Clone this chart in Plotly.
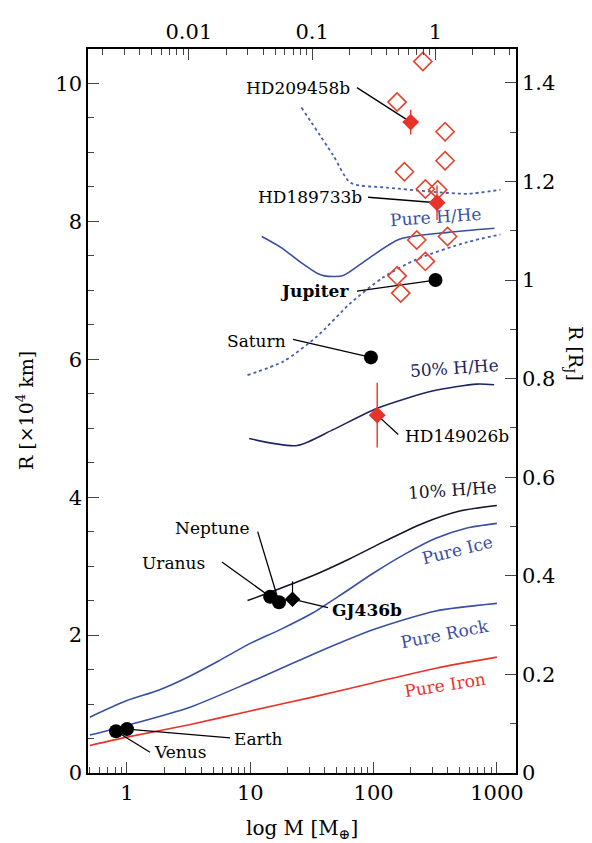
import numpy as np
import plotly.graph_objects as go

RJ = 7.1492  # Jupiter radius in 10^4 km
MJ = 317.8   # Jupiter mass in Earth masses

# ---- model curves (M in Earth masses, R in 10^4 km) ----
iron_m = [0.5, 1, 3.2, 10, 32, 100, 320, 1000]
iron_r = [0.40, 0.52, 0.70, 0.90, 1.10, 1.31, 1.52, 1.68]
rock_m = [0.5, 1, 3.2, 10, 32, 100, 320, 1000]
rock_r = [0.55, 0.69, 0.95, 1.32, 1.72, 2.08, 2.35, 2.46]
ice_m = [0.5, 1, 1.8, 3.2, 5.6, 10, 18, 32, 56, 100, 178, 316, 562, 1000]
ice_r = [0.81, 1.05, 1.20, 1.40, 1.63, 1.88, 2.09, 2.32, 2.60, 2.90, 3.17, 3.40, 3.55, 3.62]
hhe10_m = [9.5, 16, 32, 63, 126, 250, 500, 1000]
hhe10_r = [2.50, 2.65, 2.86, 3.10, 3.37, 3.62, 3.80, 3.88]
hhe50_m = [9.8, 24, 47, 107, 300, 690, 950]
hhe50_r = [4.85, 4.75, 4.98, 5.29, 5.54, 5.64, 5.63]
hhe_m = [12.4, 17.8, 25, 35.5, 40, 56, 89, 162, 400, 955]
hhe_r = [7.78, 7.62, 7.42, 7.24, 7.21, 7.21, 7.45, 7.74, 7.84, 7.90]
dot_hi_m = [26, 47, 65, 129, 302, 575, 1070]
dot_hi_r = [9.65, 8.96, 8.56, 8.49, 8.43, 8.40, 8.46]
dot_lo_m = [9.5, 18.6, 34.7, 64.6, 120, 224, 575, 1070]
dot_lo_r = [5.77, 5.97, 6.33, 6.81, 7.19, 7.45, 7.70, 7.81]

# ---- open diamonds (other transiting planets) ----
open_m = [251, 155, 380, 380, 178, 263, 331, 224, 398, 263, 155, 166]
open_r = [10.32, 9.73, 9.30, 8.88, 8.72, 8.47, 8.46, 7.73, 7.78, 7.42, 7.21, 6.96]

# ---- solar-system planets ----
sol_names = ["Venus", "Earth", "Uranus", "Neptune", "Saturn", "Jupiter"]
sol_m = [0.815, 1.0, 14.5, 17.1, 95.16, 317.8]
sol_r = [0.605, 0.637, 2.556, 2.476, 6.027, 7.149]

# ---- highlighted exoplanets ----
exo_names = ["HD209458b", "HD189733b", "HD149026b"]
exo_m = [200, 327, 107]
exo_r = [9.44, 8.27, 5.19]
exo_err = [0.18, 0.25, 0.47]
gj_m = [22]
gj_r = [2.52]
gj_err_up = [0.26]
gj_err_dn = [0.10]

# label anchor positions (log10 M, R, alignment, leader end log10 M, leader end R)
labels = {
    "Venus":     (0.205, 0.30, "left", 0.187, 0.30),
    "Earth":     (0.855, 0.50, "left", 0.835, 0.51),
    "Uranus":    (0.650, 3.04, "right", 0.77, 3.06),
    "Neptune":   (1.010, 3.55, "right", 1.06, 3.50),
    "Saturn":    (1.306, 6.27, "right", 1.346, 6.29),
    "Jupiter":   (1.817, 6.99, "right", 1.865, 6.99),
    "HD209458b": (1.825, 9.94, "right", 1.865, 9.94),
    "HD189733b": (1.920, 8.35, "right", 1.955, 8.35),
    "HD149026b": (2.240, 4.89, "left", 2.20, 4.91),
    "GJ436b":    (1.646, 2.37, "left", 1.63, 2.40),
}

FONT = "DejaVu Serif"
BLUE = "#3a4ea3"
NAVY = "#1d2463"
RED = "#e8332a"

fig = go.Figure()

def curve(m, r, color, dash="solid", width=1.6):
    fig.add_trace(go.Scatter(x=m, y=r, mode="lines", line=dict(color=color, width=width, dash=dash,
                             shape="spline", smoothing=0.7), showlegend=False, hoverinfo="skip"))

curve(iron_m, iron_r, RED)
curve(rock_m, rock_r, BLUE)
curve(ice_m, ice_r, BLUE)
curve(hhe10_m, hhe10_r, "#14142a")
curve(hhe50_m, hhe50_r, NAVY)
curve(hhe_m, hhe_r, BLUE)
curve(dot_hi_m, dot_hi_r, "#4a5db0", dash="dot", width=1.8)
curve(dot_lo_m, dot_lo_r, "#4a5db0", dash="dot", width=1.8)

# leader lines
pos = {n: (m, r) for n, m, r in zip(sol_names, sol_m, sol_r)}
pos.update({n: (m, r) for n, m, r in zip(exo_names, exo_m, exo_r)})
pos["GJ436b"] = (gj_m[0], gj_r[0])
for name, (lx, ly, al, ex, ey) in labels.items():
    pm, pr = pos[name]
    fig.add_trace(go.Scatter(x=[10 ** ex, pm], y=[ey, pr], mode="lines",
                             line=dict(color="black", width=1.3), showlegend=False, hoverinfo="skip"))

# open diamonds
fig.add_trace(go.Scatter(x=open_m, y=open_r, mode="markers",
                         marker=dict(symbol="diamond-open", size=14, color="#e2452f", line=dict(width=1.6)),
                         showlegend=False, hoverinfo="skip"))

# solar system planets
fig.add_trace(go.Scatter(x=sol_m, y=sol_r, mode="markers",
                         marker=dict(symbol="circle", size=14, color="black"),
                         showlegend=False, hoverinfo="skip"))

# exoplanets with error bars
fig.add_trace(go.Scatter(x=exo_m, y=exo_r, mode="markers",
                         marker=dict(symbol="diamond", size=13, color=RED),
                         error_y=dict(type="data", array=exo_err, color=RED, thickness=1.4, width=0),
                         showlegend=False, hoverinfo="skip"))
fig.add_trace(go.Scatter(x=gj_m, y=gj_r, mode="markers",
                         marker=dict(symbol="diamond", size=12, color="black"),
                         error_y=dict(type="data", symmetric=False, array=gj_err_up, arrayminus=gj_err_dn,
                                      color="black", thickness=1.2, width=0),
                         showlegend=False, hoverinfo="skip"))

# dummy trace for secondary axes
fig.add_trace(go.Scatter(x=[1], y=[0.5], xaxis="x2", yaxis="y2", mode="markers",
                         marker=dict(opacity=0), showlegend=False, hoverinfo="skip"))

ann = []
for name, (lx, ly, al, ex, ey) in labels.items():
    bold = name in ("Jupiter", "GJ436b")
    ann.append(dict(x=lx, y=ly, xref="x", yref="y", text=f"<b>{name}</b>" if bold else name,
                    showarrow=False, xanchor=al, yanchor="middle",
                    font=dict(family=FONT, size=17, color="black")))

curve_labels = [
    ("Pure H/He", 2.50, 8.06, BLUE, -4),
    ("50% H/He", 2.66, 5.87, NAVY, -4),
    ("10% H/He", 2.64, 4.11, "#14142a", -4),
    ("Pure Ice", 2.68, 3.24, BLUE, -14),
    ("Pure Rock", 2.58, 2.01, BLUE, -11),
    ("Pure Iron", 2.58, 1.27, RED, -9),
]
for t, lx, ly, c, ang in curve_labels:
    ann.append(dict(x=lx, y=ly, xref="x", yref="y", text=t, showarrow=False, textangle=ang,
                    font=dict(family=FONT, size=17, color=c)))

# axis titles
ann.append(dict(x=0.5, y=-0.078, xref="paper", yref="paper", text="log M [M<sub>⊕</sub>]",
                showarrow=False, xanchor="center", yanchor="middle",
                font=dict(family=FONT, size=20, color="black")))
ann.append(dict(x=-0.147, y=0.5, xref="paper", yref="paper", text="R [×10<sup>4</sup> km]",
                showarrow=False, textangle=-90, xanchor="center", yanchor="middle",
                font=dict(family=FONT, size=19, color="black")))
ann.append(dict(x=1.138, y=0.58, xref="paper", yref="paper", text="R [R<sub>J</sub>]",
                showarrow=False, textangle=90, xanchor="center", yanchor="middle",
                font=dict(family=FONT, size=19, color="black")))

def log_minor(lo, hi):
    out = []
    for d in range(lo, hi):
        for k in range(2, 10):
            out.append(k * 10.0 ** d)
    return out

xr = [-0.316, 3.155]
tickfont = dict(family=FONT, size=21, color="black")
fig.update_layout(
    width=584, height=835, margin=dict(l=80, r=76, t=35, b=70),
    plot_bgcolor="white", paper_bgcolor="white", annotations=ann,
    xaxis=dict(type="log", range=xr, showgrid=False, zeroline=False, showline=True, linecolor="black",
               linewidth=1.5, ticks="inside", ticklen=11, tickwidth=1.2, tickvals=[1, 10, 100, 1000],
               ticktext=["1", "10", "100", "1000"], tickfont=tickfont,
               minor=dict(tickvals=log_minor(-1, 4), ticks="inside", ticklen=6, tickwidth=1.1)),
    xaxis2=dict(type="log", range=[xr[0] - np.log10(MJ), xr[1] - np.log10(MJ)], overlaying="x",
                side="top", anchor="y2", showgrid=False, zeroline=False, showline=True, linecolor="black",
                linewidth=1.5, ticks="inside", ticklen=11, tickwidth=1.2, tickvals=[0.01, 0.1, 1],
                ticktext=["0.01", "0.1", "1"], tickfont=tickfont,
                minor=dict(tickvals=log_minor(-3, 1), ticks="inside", ticklen=6, tickwidth=1.1)),
    yaxis=dict(range=[0, 10.5], showgrid=False, zeroline=False, showline=True, linecolor="black",
               linewidth=1.5, ticks="inside", ticklen=11, tickwidth=1.2, tickvals=[0, 2, 4, 6, 8, 10],
               tickfont=tickfont, minor=dict(dtick=0.5, ticks="inside", ticklen=6, tickwidth=1.1)),
    yaxis2=dict(range=[0, 10.5 / RJ], overlaying="y", side="right", anchor="x2", showgrid=False,
                zeroline=False, showline=True, linecolor="black", linewidth=1.5, ticks="inside",
                ticklen=11, tickwidth=1.2, tickvals=[0, 0.2, 0.4, 0.6, 0.8, 1.0, 1.2, 1.4],
                ticktext=["0", "0.2", "0.4", "0.6", "0.8", "1", "1.2", "1.4"], tickfont=tickfont,
                minor=dict(dtick=0.1, ticks="inside", ticklen=6, tickwidth=1.1)),
)

fig.write_html("out.html")
